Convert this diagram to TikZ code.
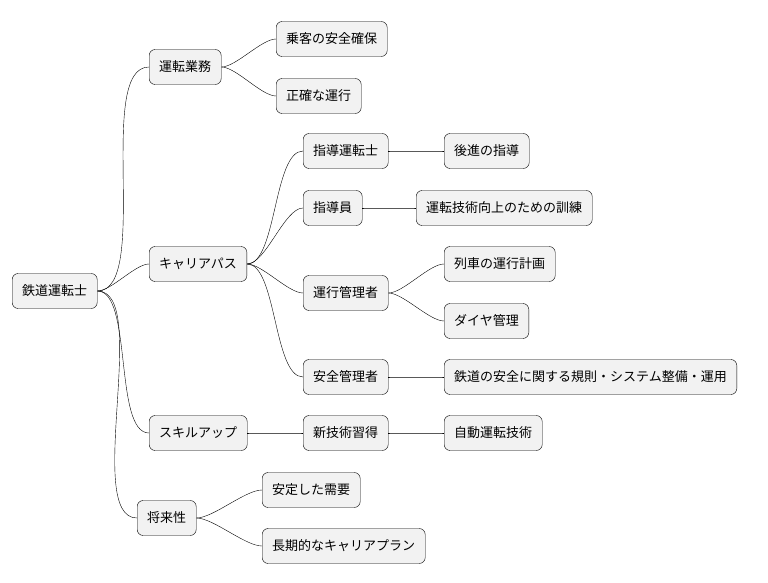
\documentclass[tikz,border=0pt]{standalone}
\usepackage{fontspec}
\setmainfont{Noto Sans CJK JP}
\usetikzlibrary{positioning}

\begin{document}
\begin{tikzpicture}[
  x=1pt, y=-1pt,
  topic/.style={rectangle, draw, rounded corners=6pt, fill=gray!10, anchor=west,
    minimum height=35pt, inner xsep=10pt, font=\fontsize{13}{15}\selectfont},
  link/.style={draw, out=0, in=180, looseness=0.6}
]
\useasboundingbox (0,0) rectangle (768,583);

\node[topic] (root) at (12,291) {鉄道運転士};

\node[topic] (ops) at (149,67) {運転業務};
\node[topic] (safe) at (276,39) {乗客の安全確保};
\node[topic] (exact) at (276,96) {正確な運行};

\node[topic] (career) at (149,264) {キャリアパス};
\node[topic] (mentor) at (303,151) {指導運転士};
\node[topic] (junior) at (444,151) {後進の指導};
\node[topic] (trainer) at (303,208) {指導員};
\node[topic] (train) at (416,208) {運転技術向上のための訓練};
\node[topic] (dispatch) at (303,293) {運行管理者};
\node[topic] (plan) at (444,264) {列車の運行計画};
\node[topic] (diagram) at (444,321) {ダイヤ管理};
\node[topic] (safety) at (303,377) {安全管理者};
\node[topic] (rules) at (444,377) {鉄道の安全に関する規則・システム整備・運用};

\node[topic] (skill) at (149,433) {スキルアップ};
\node[topic] (newtech) at (303,433) {新技術習得};
\node[topic] (auto) at (444,433) {自動運転技術};

\node[topic] (future) at (137,518) {将来性};
\node[topic] (demand) at (262,490) {安定した需要};
\node[topic] (longplan) at (262,546) {長期的なキャリアプラン};

\foreach \a/\b in {root/ops, root/career, root/skill, root/future,
  ops/safe, ops/exact,
  career/mentor, career/trainer, career/dispatch, career/safety,
  mentor/junior, trainer/train, dispatch/plan, dispatch/diagram, safety/rules,
  skill/newtech, newtech/auto,
  future/demand, future/longplan}
  \path[link] (\a.east) to (\b.west);

\end{tikzpicture}
\end{document}
